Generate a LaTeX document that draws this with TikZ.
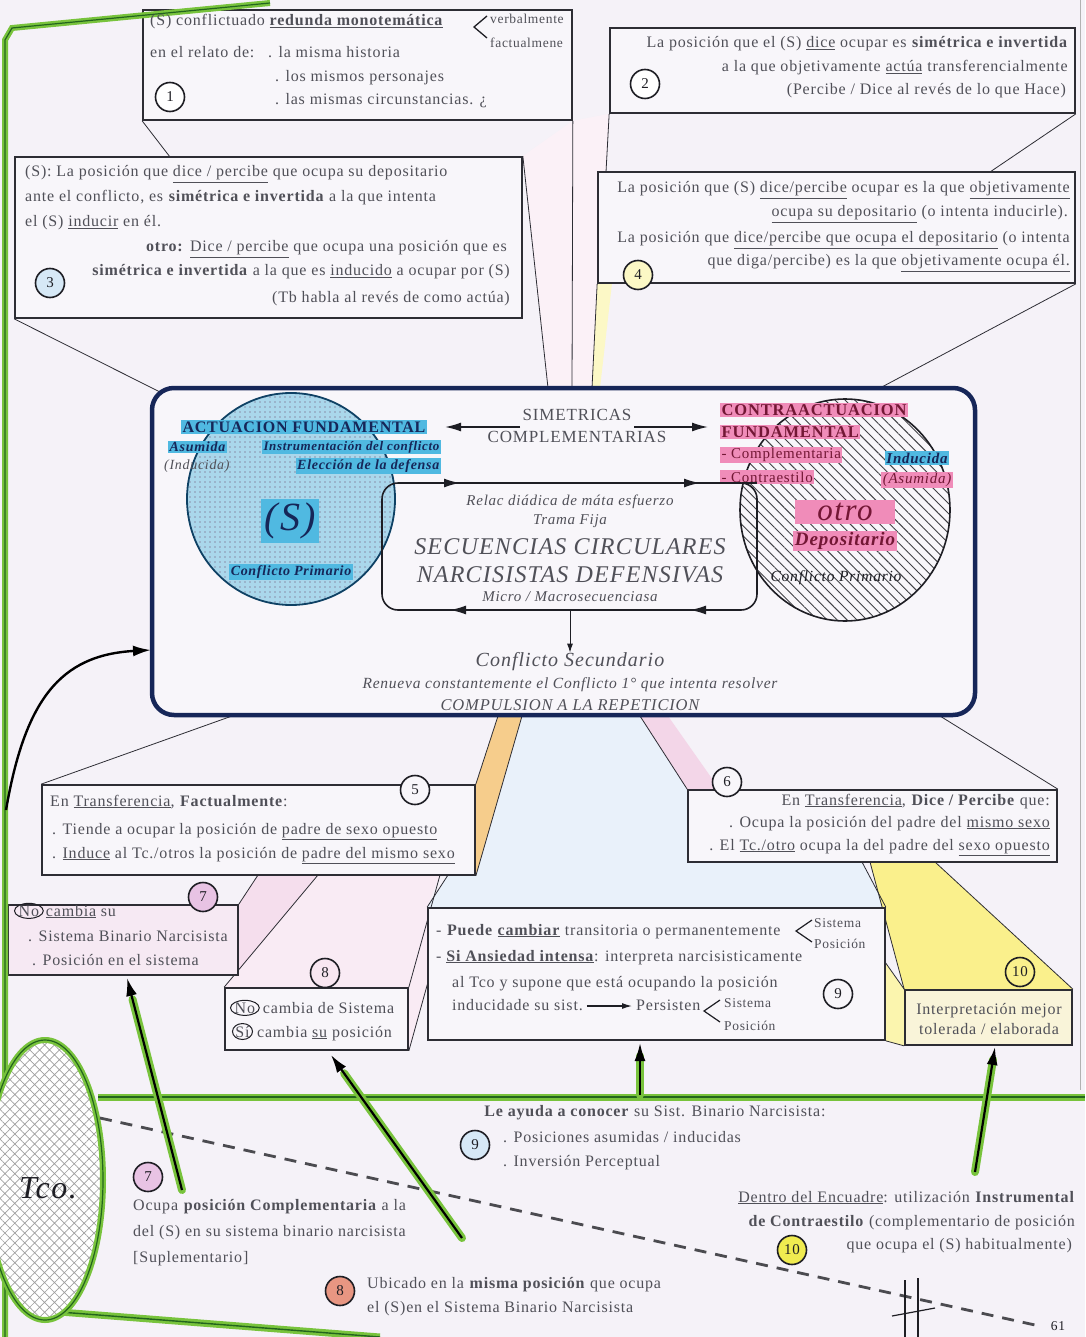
\documentclass[tikz,border=0pt]{standalone}
\usepackage{fontspec}
\setmainfont{Liberation Serif}[LetterSpace=5]
\usetikzlibrary{patterns,patterns.meta,shapes.geometric,arrows.meta,positioning,calc}

\definecolor{paper}{RGB}{245,242,248}
\definecolor{boxfill}{RGB}{248,246,250}
\definecolor{ink}{RGB}{80,80,88}
\definecolor{inkdark}{RGB}{30,30,36}
\definecolor{boxline}{RGB}{45,45,52}
\definecolor{navy}{RGB}{22,38,88}
\definecolor{skyhl}{RGB}{80,185,225}
\definecolor{rosehl}{RGB}{240,140,185}
\definecolor{sfill}{RGB}{170,215,235}
\definecolor{leaf}{RGB}{120,195,60}
\definecolor{leafdark}{RGB}{35,100,30}
\definecolor{beampink}{RGB}{243,214,232}
\definecolor{beamyellow}{RGB}{250,240,140}
\definecolor{beamblue}{RGB}{214,230,246}
\definecolor{beamorange}{RGB}{246,205,140}
\definecolor{ringpink}{RGB}{232,195,228}
\definecolor{ringblue}{RGB}{214,232,246}
\definecolor{ringyellow}{RGB}{240,235,80}
\definecolor{ringsalmon}{RGB}{232,150,130}

\pgfdeclarelayer{background}
\pgfsetlayers{background,main}

\tikzset{
  bodytxt/.style={inner sep=0pt,text=ink,font=\fontsize{16}{19}\selectfont},
  smalltxt/.style={inner sep=0pt,text=ink,font=\fontsize{13.5}{15}\selectfont},
  coretxt/.style={inner sep=0pt,text=ink,font=\fontsize{15}{17}\selectfont\itshape},
  capstxt/.style={inner sep=0pt,text=ink,font=\fontsize{17}{19}\selectfont},
  boxframe/.style={draw=boxline,line width=1.7pt,fill=boxfill,inner sep=0pt},
  numring/.style={circle,draw=inkdark,line width=1.6pt,minimum size=29pt,inner sep=0pt,text=inkdark,font=\fontsize{15}{15}\selectfont},
  hiblue/.style={fill=skyhl,inner sep=1.5pt,text=navy},
  hipink/.style={fill=rosehl,inner sep=1.5pt,text=navy!60!red},
  ringed/.style={ellipse,draw=inkdark,line width=1pt,inner sep=0.4pt},
  beamline/.style={draw=boxline,line width=0.8pt},
  loopline/.style={draw=inkdark,line width=1.6pt},
  bigtip/.style={-{Latex[length=16pt,width=9pt]}},
  glow/.style={draw=leaf,line width=8pt,line cap=round},
  glowtip/.style={draw=black,line width=2.2pt,-{Latex[length=18pt,width=11pt]}},
}

\begin{document}
\begin{tikzpicture}[x=1pt,y=-1pt]
\useasboundingbox (0,0) rectangle (1085,1337);

% boxes
\node[boxframe,minimum width=429pt,minimum height=110pt] (b1) at (357.5,65) {};
\node[boxframe,minimum width=465pt,minimum height=85pt] (b2) at (842.5,70.5) {};
\node[boxframe,minimum width=507pt,minimum height=161pt] (b3) at (268.5,237.5) {};
\node[boxframe,minimum width=477pt,minimum height=111pt] (b4) at (836.5,227.5) {};
\node[draw=navy,line width=4.5pt,rounded corners=22pt,fill=boxfill,minimum width=823pt,minimum height=327pt] (core) at (563.5,551.5) {};
\node[boxframe,minimum width=433pt,minimum height=90pt] (b5) at (258.5,830) {};
\node[boxframe,minimum width=369pt,minimum height=72pt] (b6) at (872.5,826) {};
\node[boxframe,fill=beampink!40!boxfill,minimum width=230pt,minimum height=70pt] (b7) at (123,940) {};
\node[boxframe,minimum width=183pt,minimum height=62pt] (b8) at (316.5,1019) {};
\node[boxframe,minimum width=457pt,minimum height=132pt] (b9) at (656.5,974) {};
\node[boxframe,fill=beamyellow!30!boxfill,minimum width=167pt,minimum height=55pt] (b10) at (988.5,1017.5) {};

\begin{pgfonlayer}{background}
	% paper
	\fill[paper] (0,0) rectangle (1085,1337);
	% beams above the core
	\coordinate (c1) at (160,392);
	\coordinate (c2) at (548,388);
	\coordinate (c3) at (572,388);
	\coordinate (c4) at (592,388);
	\coordinate (c5) at (880,388);
	\coordinate (c6) at (170,157);
	\coordinate (c7) at (606,172);
	\coordinate (c8) at (990,172);
	\fill[beampink!35] (b3.north east) -- (c2) -- (c4) -- (b4.south west) -- (c7) -- (b2.south west) -- (b1.south east) -- cycle;
	\fill[beamyellow!50] (b4.south west) -- (c4) -- (600,388) -- (612,283) -- cycle;
	\draw[beamline] (b1.south west) -- (c6);
	\draw[beamline] (b1.south east) -- (c3);
	\draw[beamline] (b2.south west) -- (c7);
	\draw[beamline] (b2.south east) -- (c8);
	\draw[beamline] (b3.north east) -- (c2);
	\draw[beamline] (b3.south west) -- (c1);
	\draw[beamline] (b4.south west) -- (c4);
	\draw[beamline] (b4.south east) -- (c5);
	% beams below the core
	\coordinate (d1) at (232,716);
	\coordinate (d2) at (498,716);
	\coordinate (d3) at (522,716);
	\coordinate (d4) at (640,716);
	\coordinate (d5) at (668,716);
	\coordinate (d6) at (940,716);
	\coordinate (d7) at (448,875);
	\coordinate (d8) at (862,862);
	\coordinate (d9) at (870,862);
	\coordinate (d10) at (935,862);
	\coordinate (d11) at (258,875);
	\coordinate (d12) at (318,875);
	\coordinate (d13) at (440,875);
	\coordinate (d14) at (428,982);
	\coordinate (d15) at (885,962);
	\fill[beamblue!55] (d3) -- (d4) -- (b6.north west) -- (b6.south west) -- (d8) -- (b9.north east) -- (b9.north west) -- (d7) -- (b5.south east) -- cycle;
	\fill[beamorange] (b5.north east) -- (d2) -- (d3) -- (b5.south east) -- cycle;
	\fill[beampink] (d4) -- (b6.north west) -- (720,790) -- (d5) -- cycle;
	\fill[beamyellow] (d9) -- (b10.north west) -- (b10.north east) -- (d10) -- cycle;
	\fill[beamyellow!70] (d15) -- (b10.north west) -- (b10.south west) -- (b9.south east) -- cycle;
	\fill[beampink!80] (b7.north east) -- (d11) -- (d12) -- (b7.south east) -- cycle;
	\fill[beampink!50] (b8.north west) -- (d12) -- (d13) -- (b9.north west) -- (d14) -- (b8.south east) -- (b8.north east) -- cycle;
	\draw[beamline] (d1) -- (b5.north west);
	\draw[beamline] (d2) -- (b5.north east);
	\draw[beamline] (d3) -- (b5.south east);
	\draw[beamline] (d4) -- (b6.north west);
	\draw[beamline] (d6) -- (b6.north east);
	\draw[beamline] (d7) -- (b9.north west);
	\draw[beamline] (d8) -- (b9.north east);
	\draw[beamline] (d9) -- (b10.north west);
	\draw[beamline] (d10) -- (b10.north east);
	\draw[beamline] (d15) -- (b10.north west);
	\draw[beamline] (b9.south east) -- (b10.south west);
	\draw[beamline] (b7.north east) -- (d11);
	\draw[beamline] (b8.north west) -- (d12);
	\draw[beamline] (b8.north east) -- (d13);
	\draw[beamline] (b8.south east) -- (d14);
\end{pgfonlayer}

% green frame
\draw[leaf,line width=6pt] (5,1337) -- (5,40) -- (12,28) -- (270,3);
\draw[leafdark,line width=1.2pt] (5,1337) -- (5,40) -- (12,28) -- (270,3);
\draw[leaf,line width=7pt] (60,1312) -- (380,1337);
\draw[leafdark,line width=1.4pt] (60,1312) -- (380,1337);
\draw[leaf,line width=7pt] (98,1097) -- (1085,1097);
\draw[leafdark,line width=1.6pt] (98,1097) -- (1085,1097);
\draw[gray!60,line width=1pt] (1080,0) -- (1080,1090);

% box 1
\node[bodytxt,anchor=base west] (t1a) at (150,26) {(S) conflictuado \underline{\textbf{redunda monotemática}}};
\draw[inkdark,line width=1.3pt] (487,16) -- (474,27) -- (487,38);
\node[smalltxt,anchor=base west] (t1v) at (490,24) {verbalmente};
\node[smalltxt,anchor=base west] (t1f) at (490,48) {factualmene};
\node[bodytxt,anchor=base west] (t1b) at (150,58) {en el relato de:};
\node[bodytxt,anchor=base west] (t1c) at (268,58) {. la misma historia};
\node[bodytxt,anchor=base west] (t1d) at (275,82) {. los mismos personajes};
\node[bodytxt,anchor=base west] (t1e) at (275,105) {. las mismas circunstancias. ¿};
\node[numring,fill=white] (n1) at (170,97) {1};

% box 2
\node[bodytxt,anchor=base east] (t2a) at (1068,48) {La posición que el (S) \underline{dice} ocupar es \textbf{simétrica e invertida}};
\node[bodytxt,anchor=base east] (t2b) at (1068,72) {a la que objetivamente \underline{actúa} transferencialmente};
\node[bodytxt,anchor=base east] (t2c) at (1066,95) {(Percibe / Dice al revés de lo que Hace)};
\node[numring,fill=white] (n2) at (645,84) {2};

% box 3
\node[bodytxt,anchor=base west] (t3a) at (25,177) {(S): La posición que \underline{dice / percibe} que ocupa su depositario};
\node[bodytxt,anchor=base west] (t3b) at (25,202) {ante el conflicto, es \textbf{simétrica e invertida} a la que intenta};
\node[bodytxt,anchor=base west] (t3c) at (25,227) {el (S) \underline{inducir} en él.};
\node[bodytxt,anchor=base east] (t3d) at (507,252) {\textbf{otro:} \underline{Dice / percibe} que ocupa una posición que es};
\node[bodytxt,anchor=base east] (t3e) at (510,276) {\textbf{simétrica e invertida} a la que es \underline{inducido} a ocupar por (S)};
\node[bodytxt,anchor=base east] (t3f) at (510,302) {(Tb habla al revés de como actúa)};
\node[numring,fill=ringblue] (n3) at (50,283) {3};

% box 4
\node[bodytxt,anchor=base east] (t4a) at (1070,193) {La posición que (S) \underline{dice/percibe} ocupar es la que \underline{objetivamente}};
\node[bodytxt,anchor=base east] (t4b) at (1068,217) {\underline{ocupa su depositario} (o intenta inducirle).};
\node[bodytxt,anchor=base east] (t4c) at (1070,243) {La posición que \underline{dice/percibe que ocupa el depositario} (o intenta};
\node[bodytxt,anchor=base east] (t4d) at (1070,266) {que diga/percibe) es la que \underline{objetivamente ocupa él.}};
\node[numring,fill=beamyellow!50] (n4) at (638,275) {4};

% core: the two circles
\fill[sfill] (291,499) ellipse [x radius=104pt,y radius=106pt];
\fill[pattern={Dots[distance=5pt,radius=0.8pt]},pattern color=navy!50] (291,499) ellipse [x radius=104pt,y radius=106pt];
\draw[navy!70!teal,line width=1.8pt] (291,499) ellipse [x radius=104pt,y radius=106pt];
\fill[pattern={Lines[angle=-45,distance=7pt,line width=0.9pt]},pattern color=inkdark!85] (845,510) ellipse [x radius=105pt,y radius=111pt];
\draw[inkdark,line width=1.6pt] (845,510) ellipse [x radius=105pt,y radius=111pt];

% core: left side
\node[hiblue,font=\fontsize{16}{18}\selectfont\bfseries] (act) at (304,427) {ACTUACION FUNDAMENTAL};
\node[hiblue,font=\fontsize{14}{15}\selectfont\bfseries\itshape,anchor=west] (asum) at (168,447) {Asumida};
\node[hiblue,font=\fontsize{13}{15}\selectfont\bfseries\itshape,anchor=east] (instr) at (441,447) {Instrumentación del conflicto};
\node[coretxt,font=\fontsize{14}{15}\selectfont\itshape,anchor=west] (induc) at (164,466) {(Inducida)};
\node[hiblue,font=\fontsize{14}{15}\selectfont\bfseries\itshape,anchor=east] (elec) at (441,466) {Elección de la defensa};
\node[hiblue,font=\fontsize{40}{42}\selectfont\itshape,inner sep=4pt] (sujeto) at (290,521) {(S)};
\node[hiblue,font=\fontsize{14}{16}\selectfont\bfseries\itshape] (cp1) at (291,572) {Conflicto Primario};

% core: right side
\node[hipink,font=\fontsize{16.5}{18}\selectfont\bfseries,anchor=west] (contra) at (720,410) {CONTRAACTUACION};
\node[hipink,font=\fontsize{16.5}{18}\selectfont\bfseries,anchor=west] (fund) at (720,432) {FUNDAMENTAL};
\node[hipink,font=\fontsize{15}{16}\selectfont,anchor=west] (compl) at (720,455) {- Complementaria};
\node[hipink,font=\fontsize{15}{16}\selectfont,anchor=west] (cest) at (720,477) {- Contraestilo};
\node[hiblue,font=\fontsize{15}{16}\selectfont\bfseries\itshape] (ind2) at (917,458) {Inducida};
\node[hipink,font=\fontsize{15}{16}\selectfont\itshape] (asu2) at (917,480) {(Asumida)};
\node[hipink,font=\fontsize{31}{33}\selectfont\itshape,minimum width=100pt,inner sep=3pt] (otro) at (845,512) {otro};
\node[hipink,font=\fontsize{19}{21}\selectfont\bfseries\itshape] (depo) at (845,541) {Depositario};
\node[coretxt,text=inkdark,font=\fontsize{15.5}{17}\selectfont\itshape] (cp2) at (836,578) {Conflicto Primario};

% core: arrows between the two
\node[capstxt] (sim) at (577,415) {SIMETRICAS};
\node[capstxt] (comp) at (577,437) {COMPLEMENTARIAS};
\coordinate (simL) at (520,427);
\coordinate (simR) at (634,427);
\coordinate (actR) at (445,427);
\coordinate (conL) at (708,427);
\draw[loopline,bigtip] (simL) -- (actR);
\draw[loopline,bigtip] (simR) -- (conL);

% core: the circular sequences loop
\draw[loopline,rounded corners=16pt] (382,483) rectangle (757,610);
\draw[loopline] (757,483) -- (742,483);
\draw[loopline,bigtip] (420,483) -- (460,483);
\draw[loopline,bigtip] (660,483) -- (700,483);
\draw[loopline,bigtip] (490,610) -- (450,610);
\draw[loopline,bigtip] (730,610) -- (690,610);
\node[coretxt] (relac) at (570,502) {Relac diádica de máta esfuerzo};
\node[coretxt] (trama) at (570,521) {Trama Fija};
\node[coretxt,font=\fontsize{24}{26}\selectfont\itshape] (secA) at (570,547) {SECUENCIAS CIRCULARES};
\node[coretxt,font=\fontsize{24}{26}\selectfont\itshape] (secB) at (570,575) {NARCISISTAS DEFENSIVAS};
\node[coretxt] (micro) at (570,597) {Micro / Macrosecuenciasa};
\node[coretxt,font=\fontsize{20}{22}\selectfont\itshape] (csec) at (570,662) {Conflicto Secundario};
\node[coretxt,font=\fontsize{15.5}{17}\selectfont\itshape] (renu) at (570,685) {Renueva constantemente el Conflicto 1° que intenta resolver};
\node[coretxt,font=\fontsize{16.5}{18}\selectfont\itshape] (compu) at (570,705) {COMPULSION A LA REPETICION};
\coordinate (loopS) at (570,610);
\draw[inkdark,line width=1pt,-{Latex[length=9pt,width=6pt]}] (loopS) -- (csec.north);

% box 5
\node[bodytxt,anchor=base west] (t5a) at (50,806) {En \underline{Transferencia}, \textbf{Factualmente}:};
\node[bodytxt,anchor=base west] (t5b) at (52,834) {. Tiende a ocupar la posición de \underline{padre de sexo opuesto}};
\node[bodytxt,anchor=base west] (t5c) at (52,858) {. \underline{Induce} al Tc./otros la posición de \underline{padre del  mismo sexo}};
\node[numring,fill=boxfill] (n5) at (415,790) {5};

% box 6
\node[bodytxt,anchor=base east] (t6a) at (1050,805) {En \underline{Transferencia}, \textbf{Dice / Percibe} que:};
\node[bodytxt,anchor=base east] (t6b) at (1050,827) {. Ocupa la posición del padre del \underline{mismo sexo}};
\node[bodytxt,anchor=base east] (t6c) at (1050,850) {. El \underline{Tc./otro} ocupa la del padre del \underline{sexo opuesto}};
\node[numring,fill=boxfill] (n6) at (727,782) {6};

% box 7
\node[ringed,bodytxt,anchor=base west] (no7) at (14,916) {No};
\node[bodytxt,right=2pt of no7.base east,anchor=base west] (t7a) {\underline{cambia} su};
\node[bodytxt,anchor=base west] (t7b) at (28,941) {. Sistema Binario Narcisista};
\node[bodytxt,anchor=base west] (t7c) at (32,965) {. Posición en el sistema};
\node[numring,fill=ringpink] (n7) at (203,897) {7};

% box 8
\node[ringed,bodytxt,anchor=base west] (no8) at (230,1013) {No};
\node[bodytxt,right=3pt of no8.base east,anchor=base west] (t8a) {cambia de Sistema};
\node[ringed,bodytxt,anchor=base west] (si8) at (232,1037) {Sí};
\node[bodytxt,anchor=base west] (t8b) at (257,1037) {cambia \underline{su} posición};
\node[numring,fill=beampink!60] (n8) at (325,973) {8};

% box 9
\node[bodytxt,anchor=base west] (t9a) at (436,935) {- \textbf{Puede} \underline{\textbf{cambiar}} transitoria o permanentemente};
\draw[inkdark,line width=1.2pt] (812,920) -- (796,931) -- (812,942);
\node[smalltxt,anchor=base west] (t9s) at (814,927) {Sistema};
\node[smalltxt,anchor=base west] (t9p) at (814,948) {Posición};
\node[bodytxt,anchor=base west] (t9b) at (436,961) {- \underline{\textbf{Si Ansiedad intensa}}: interpreta narcisisticamente};
\node[bodytxt,anchor=base west] (t9c) at (452,987) {al Tco y supone que está ocupando la posición};
\node[bodytxt,anchor=base west] (t9d) at (452,1010) {inducidade su sist.};
\node[bodytxt,anchor=base west] (t9e) at (636,1010) {Persisten};
\draw[inkdark,line width=1.2pt,-{Latex[length=10pt,width=6pt]}] ([xshift=4pt,yshift=4pt]t9d.base east) -- ([xshift=-4pt,yshift=4pt]t9e.base west);
\draw[inkdark,line width=1.2pt] (720,1000) -- (704,1011) -- (720,1022);
\node[smalltxt,anchor=base west] (t9s2) at (724,1007) {Sistema};
\node[smalltxt,anchor=base west] (t9p2) at (724,1030) {Posición};
\node[numring,fill=boxfill] (n9) at (838,994) {9};

% box 10
\node[bodytxt,anchor=base] (t10a) at (989,1014) {Interpretación mejor};
\node[bodytxt,anchor=base] (t10b) at (989,1034) {tolerada / elaborada};
\node[numring,fill=beamyellow] (n10) at (1020,972) {10};

% Tco
\fill[white] (45,1180) ellipse [x radius=58pt,y radius=140pt];
\fill[pattern={Hatch[angle=45,distance=7pt,line width=0.7pt]},pattern color=gray!75] (45,1180) ellipse [x radius=58pt,y radius=140pt];
\draw[leaf,line width=6pt] (45,1180) ellipse [x radius=58pt,y radius=140pt];
\draw[leafdark,line width=1.2pt] (45,1180) ellipse [x radius=58pt,y radius=140pt];
\node[font=\fontsize{32}{34}\selectfont\itshape,text=inkdark,inner sep=1pt] (tco) at (48,1188) {Tco.};

% dashed line and cross
\draw[inkdark!80,line width=2.8pt,dash pattern=on 12pt off 9pt] (100,1118) -- (1035,1325);
\draw[inkdark,line width=1.2pt] (905,1280) -- (905,1337);
\draw[inkdark,line width=1.2pt] (918,1278) -- (918,1337);
\draw[inkdark,line width=1.2pt] (892,1316) -- (935,1308);
\node[smalltxt,text=inkdark] (page) at (1058,1326) {61};

% bottom texts
\node[bodytxt,anchor=base] (t9x) at (655,1116) {\textbf{Le ayuda a conocer} su Sist. Binario Narcisista:};
\node[numring,fill=ringblue] (n9b) at (475,1145) {9};
\node[bodytxt,anchor=base west] (t9y) at (503,1142) {. Posiciones asumidas / inducidas};
\node[bodytxt,anchor=base west] (t9z) at (503,1166) {. Inversión Perceptual};
\node[numring,fill=ringpink] (n7b) at (148,1177) {7};
\node[bodytxt,anchor=base west] (t7x) at (133,1210) {Ocupa \textbf{posición Complementaria} a la};
\node[bodytxt,anchor=base west] (t7y) at (133,1236) {del (S) en su sistema binario narcisista};
\node[bodytxt,anchor=base west] (t7z) at (133,1262) {[Suplementario]};
\node[numring,fill=ringsalmon] (n8b) at (340,1291) {8};
\node[bodytxt,anchor=base west] (t8x) at (367,1288) {Ubicado en la \textbf{misma posición} que ocupa};
\node[bodytxt,anchor=base west] (t8y) at (367,1312) {el (S)en el Sistema Binario Narcisista};
\node[bodytxt,anchor=base east] (t10x) at (1075,1202) {\underline{Dentro del Encuadre}: utilización \textbf{Instrumental}};
\node[bodytxt,anchor=base east] (t10y) at (1075,1226) {\textbf{de Contraestilo} (complementario de posición};
\node[bodytxt,anchor=base east] (t10z) at (1072,1249) {que ocupa el (S) habitualmente)};
\node[numring,fill=ringyellow] (n10b) at (792,1250) {10};

% green arrows up to the boxes
\coordinate (g7) at (182,1190);
\coordinate (g8) at (462,1238);
\coordinate (g9) at (640,1095);
\coordinate (g10) at (975,1172);
\coordinate (h7) at (127,978);
\coordinate (h8) at (331,1055);
\coordinate (h9) at (640,1043);
\coordinate (h10) at (995,1047);
\draw[glow] (g7) -- ($(g7)!0.9!(h7)$);
\draw[glow] (g8) -- ($(g8)!0.9!(h8)$);
\draw[glow] (g9) -- ($(g9)!0.75!(h9)$);
\draw[glow] (g10) -- ($(g10)!0.9!(h10)$);
\draw[glowtip] (g7) -- (h7);
\draw[glowtip] (g8) -- (h8);
\draw[glowtip] (g9) -- (h9);
\draw[glowtip] (g10) -- (h10);

% curved arrow into the core
\coordinate (lstart) at (6,810);
\coordinate (lend) at (151,650);
\draw[black,line width=2.4pt,-{Latex[length=18pt,width=11pt]}] (lstart) .. controls (25,700) and (60,655) .. (lend);
\end{tikzpicture}
\end{document}
